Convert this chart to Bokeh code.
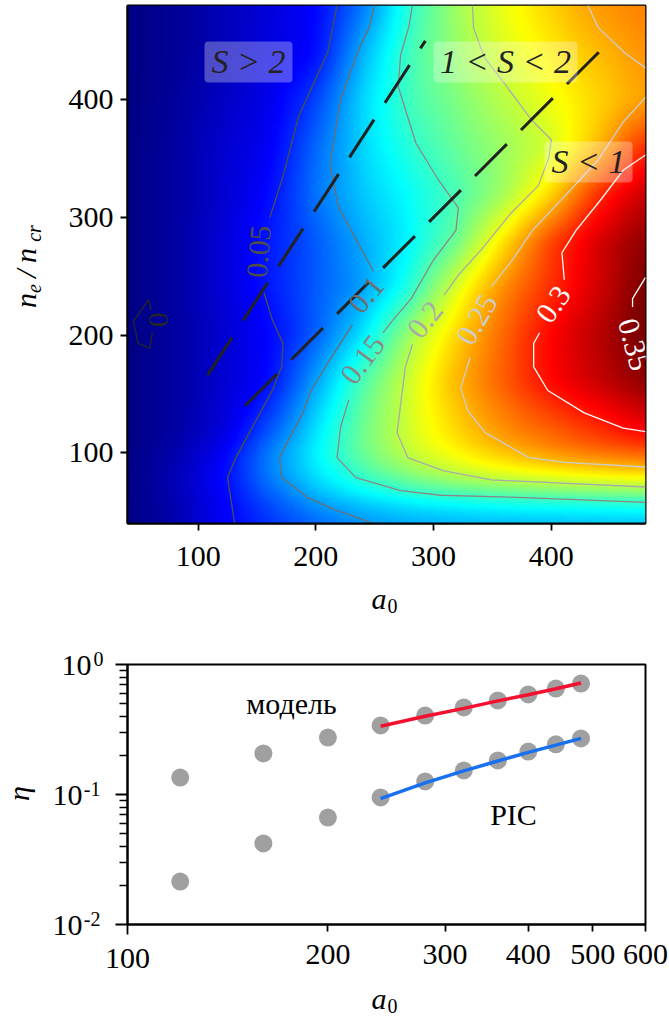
import math
import numpy as np
from bokeh.embed import file_html
from bokeh.resources import INLINE
from bokeh.layouts import column
from bokeh.models import BoxAnnotation, FixedTicker, Label, LinearColorMapper, Range1d
from bokeh.plotting import figure
from bokeh.core.properties import value

FONT = "Liberation Serif"

# ---------- top panel: efficiency map ----------
a0_cols = [40, 80, 120, 160, 200, 240, 280, 320, 360, 400, 440, 480]
ne_rows = [40, 60, 80, 100, 120, 160, 200, 240, 280, 320, 360, 400, 440, 480]
z_n40  = [.002, .016, .042, .060, .078, .092, .100, .103, .105, .106, .107, .108]
z_n60  = [.002, .018, .042, .072, .102, .120, .133, .140, .146, .149, .152, .154]
z_n80  = [.002, .020, .046, .088, .123, .153, .178, .198, .208, .217, .223, .228]
z_n100 = [.002, .016, .040, .088, .130, .170, .202, .222, .242, .258, .270, .278]
z_n120 = [.002, .012, .030, .070, .122, .170, .205, .233, .258, .274, .291, .310]
z_n160 = [.002, .012, .028, .045, .100, .160, .205, .245, .275, .305, .325, .345]
z_n200 = [.002, .012, .028, .044, .075, .123, .189, .234, .272, .306, .330, .355]
z_n240 = [.002, .012, .030, .052, .075, .097, .143, .210, .260, .290, .320, .352]
z_n280 = [.002, .012, .030, .053, .074, .103, .129, .167, .229, .285, .320, .345]
z_n320 = [.002, .012, .028, .046, .085, .113, .133, .156, .185, .230, .291, .325]
z_n360 = [.002, .012, .028, .040, .080, .118, .145, .167, .185, .202, .240, .293]
z_n400 = [.002, .010, .024, .037, .066, .119, .155, .175, .195, .214, .232, .250]
z_n440 = [.002, .008, .020, .034, .045, .106, .155, .184, .207, .224, .241, .256]
z_n480 = [.002, .008, .020, .032, .044, .084, .147, .187, .213, .234, .254, .262]
z_rows = [z_n40, z_n60, z_n80, z_n100, z_n120, z_n160, z_n200, z_n240, z_n280,
          z_n320, z_n360, z_n400, z_n440, z_n480]

# contour paths (a0, ne), pieces separated where the labels sit
c0_a = [60, 58, 45, 49, 59, 61]
c0_n = [221, 230, 212, 193, 189, 202]
c05a_a = [131, 125, 132, 164, 168, 171, 172, 163, 156]
c05a_n = [40, 79, 96, 155, 166, 173, 193, 213, 236]
c05b_a = [161, 173, 185, 210, 215, 218]
c05b_n = [300, 338, 385, 440, 465, 480]
c10a_a = [249, 213, 193, 171, 169, 189, 196, 210, 231]
c10a_n = [40, 53, 62, 79, 96, 134, 153, 176, 209]
c10b_a = [249, 219, 212, 221, 236, 245, 250]
c10b_n = [254, 309, 346, 400, 442, 461, 480]
c15a_a = [228, 221, 218, 234, 272, 306, 377, 480]
c15a_n = [145, 122, 96, 79, 68, 64, 62, 58]
c15b_a = [257, 264, 281, 300, 319, 321, 304, 285, 270, 272, 279, 282]
c15b_n = [202, 211, 231, 264, 289, 308, 332, 363, 411, 438, 462, 480]
c20a_a = [282, 276, 269, 278, 308, 349, 480]
c20a_n = [192, 173, 117, 96, 85, 77, 71]
c20b_a = [309, 321, 340, 366, 389, 398, 400, 383, 360, 343, 334, 333]
c20b_n = [234, 251, 272, 304, 327, 351, 366, 383, 414, 436, 461, 480]
c25a_a = [331, 323, 329, 344, 381, 411, 480]
c25a_n = [181, 155, 136, 117, 96, 92, 88]
c25b_a = [349, 367, 384, 414, 440, 461, 480]
c25b_n = [241, 264, 289, 321, 349, 381, 402]
c25c_a = [431, 440, 462, 480]
c25c_n = [480, 461, 440, 427]
c30a_a = [390, 385, 385, 397, 428, 461, 480]
c30a_n = [202, 193, 173, 153, 134, 121, 118]
c30b_a = [411, 409, 421, 442, 461, 480]
c30b_n = [247, 270, 289, 315, 340, 353]
c35_a = [480, 469, 469]
c35_n = [249, 231, 224]

contours = [
    (c0_a, c0_n, "#262626"),
    (c05a_a, c05a_n, "#4d4d4d"), (c05b_a, c05b_n, "#4d4d4d"),
    (c10a_a, c10a_n, "#6e6e6e"), (c10b_a, c10b_n, "#6e6e6e"),
    (c15a_a, c15a_n, "#888888"), (c15b_a, c15b_n, "#888888"),
    (c20a_a, c20a_n, "#aaaaaa"), (c20b_a, c20b_n, "#aaaaaa"),
    (c25a_a, c25a_n, "#cccccc"), (c25b_a, c25b_n, "#cccccc"), (c25c_a, c25c_n, "#cccccc"),
    (c30a_a, c30a_n, "#fafafa"), (c30b_a, c30b_n, "#fafafa"),
    (c35_a, c35_n, "#ffffff"),
]

clabel_text = ["0", "0.05", "0.1", "0.15", "0.2", "0.25", "0.3", "0.35"]
clabel_a = [66, 152, 243, 240, 293, 337, 402, 470]
clabel_n = [213, 271, 234, 179, 213, 213, 226, 192]
clabel_rot = [90, 85, 50, 53, 52, 60, 55, -75]
clabel_col = ["#262626", "#4d4d4d", "#6e6e6e", "#888888", "#aaaaaa", "#cccccc", "#fafafa", "#ffffff"]

dash1_a = [108, 293]
dash1_n = [166, 450]
dash2_a = [140, 443]
dash2_n = [140, 443]

# ---------- bottom panel ----------
a0_pts = [120, 160, 200, 240, 280, 320, 360, 400, 440, 480]
eta_model = [.135, .207, .274, .34, .405, .467, .529, .588, .653, .714]
eta_pic = [.0214, .042, .0665, .095, .126, .153, .183, .214, .243, .27]
a0_fit = [240, 280, 320, 360, 400, 440, 480]
eta_model_fit = [.335, .40, .46, .525, .585, .65, .72]
eta_pic_fit = [.093, .123, .152, .181, .211, .24, .27]

# ---------- texts outside the two frames (text, page x, page y, size, italic, align, rotated) ----------
outer_texts = [
    ("a", 378.5, 598, 30, True, "center", False),
    ("0", 392, 605, 20, False, "center", False),
    ("n", 25, 300, 30, True, "center", True),
    ("e", 33, 288, 20, True, "center", True),
    ("/", 25, 273, 30, True, "center", True),
    ("n", 25, 255, 30, True, "center", True),
    ("cr", 33, 233, 20, True, "center", True),
    ("100", 127, 958, 30, False, "center", False),
    ("10", 91, 665, 30, False, "right", False),
    ("0", 103, 658, 20, False, "right", False),
    ("10", 82, 795, 30, False, "right", False),
    ("-1", 100, 788, 20, False, "right", False),
    ("10", 82, 925, 30, False, "right", False),
    ("-2", 100, 918, 20, False, "right", False),
    ("a", 378.5, 998, 30, True, "center", False),
    ("0", 392, 1005, 20, False, "center", False),
    ("η", 18, 793, 30, True, "center", True),
]


def jet(n=256):
    out = []
    for i in range(n):
        f = i / (n - 1)
        r = min(max(min(4 * f - 1.5, -4 * f + 4.5), 0), 1)
        g = min(max(min(4 * f - 0.5, -4 * f + 3.5), 0), 1)
        b = min(max(min(4 * f + 0.5, -4 * f + 2.5), 0), 1)
        out.append("#%02x%02x%02x" % (int(r * 255), int(g * 255), int(b * 255)))
    return out


def display_field(size=264):
    """Resample the read table for display, as a smoothed image would be."""
    z = np.array(z_rows)
    fine = np.linspace(40, 480, size)
    by_col = np.array([np.interp(fine, a0_cols, row) for row in z])
    full = np.array([np.interp(fine, ne_rows, by_col[:, j]) for j in range(size)]).T
    kernel = np.exp(-0.5 * (np.arange(-12, 13) / 5.0) ** 2)
    kernel /= kernel.sum()
    for axis in (0, 1):
        pad = np.pad(full, [(12, 12) if k == axis else (0, 0) for k in (0, 1)], mode="edge")
        full = np.apply_along_axis(lambda m: np.convolve(m, kernel, mode="valid"), axis, pad)
    return full


def style_axis(ax):
    ax.axis_line_width = 2
    ax.axis_line_color = "black"
    ax.major_tick_line_width = 1.8
    ax.major_tick_line_color = "black"
    ax.major_tick_in = 0
    ax.major_tick_out = 7
    ax.minor_tick_in = 0
    ax.minor_tick_out = 0
    ax.major_label_text_font = FONT
    ax.major_label_text_font_size = "30px"
    ax.major_label_text_color = "black"


TOP_FRAME = (127, 5, 518, 518)     # left, top, width, height on the page
BOT_FRAME = (127, 664, 518, 260)
H1 = 638
H2 = 1016 - H1

p1 = figure(width=669, height=H1, frame_width=TOP_FRAME[2], frame_height=TOP_FRAME[3],
            x_range=Range1d(40, 480), y_range=Range1d(40, 480),
            output_backend="svg", toolbar_location=None,
            min_border_left=TOP_FRAME[0], min_border_top=TOP_FRAME[1],
            min_border_right=669 - TOP_FRAME[0] - TOP_FRAME[2],
            min_border_bottom=H1 - TOP_FRAME[1] - TOP_FRAME[3])
p1.grid.visible = False
p1.outline_line_color = "black"
p1.outline_line_width = 2
for ax in (p1.xaxis[0], p1.yaxis[0]):
    style_axis(ax)
    ax.ticker = FixedTicker(ticks=[100, 200, 300, 400])
p1.xaxis[0].major_label_standoff = 16
p1.yaxis[0].major_label_standoff = 7

mapper = LinearColorMapper(palette=jet(), low=0, high=0.35)
p1.image(image=[display_field()], x=40, y=40, dw=440, dh=440, color_mapper=mapper)
for xs, ys, col in contours:
    p1.line(xs, ys, line_color=col, line_width=1.3)
p1.line(dash1_a, dash1_n, line_color="#222222", line_width=3, line_dash="45 20")
p1.line(dash2_a, dash2_n, line_color="#222222", line_width=3, line_dash="45 20")
p1.text(clabel_a, clabel_n, text=clabel_text, angle=[math.radians(r) for r in clabel_rot],
        text_font=value(FONT), text_font_size="30px", text_color=clabel_col,
        text_align="center", text_baseline="middle")


def tx(px):
    return 40 + (px - TOP_FRAME[0]) / TOP_FRAME[2] * 440


def ty(py):
    return 480 - (py - TOP_FRAME[1]) / TOP_FRAME[3] * 440


def bx(px):
    return 100 * 6 ** ((px - BOT_FRAME[0]) / BOT_FRAME[2])


def by(py):
    return 10 ** (-(py - BOT_FRAME[1]) / (BOT_FRAME[3] / 2))


def text_data(fig, x, y, s, size, italic=False, color="black"):
    fig.add_layout(Label(x=x, y=y, text=s, text_font=FONT, text_font_size=f"{size}px",
                         text_font_style="italic" if italic else "normal",
                         text_align="center", text_baseline="middle", text_color=color))


for left, right, top, bottom, cap, cx, cy in [
    (204, 292, 41, 82, "S > 2", 248, 61),
    (433, 577, 41, 82, "1 < S < 2", 505, 61),
    (544, 632, 141, 182, "S < 1", 588, 161),
]:
    p1.add_layout(BoxAnnotation(left=tx(left), right=tx(right), top=ty(top), bottom=ty(bottom),
                                fill_color="white", fill_alpha=0.3, line_alpha=0, border_radius=4))
    text_data(p1, tx(cx), ty(cy), cap, 34, italic=True, color="#222222")

p2 = figure(width=669, height=H2, frame_width=BOT_FRAME[2], frame_height=BOT_FRAME[3],
            x_axis_type="log", y_axis_type="log",
            x_range=Range1d(100, 600), y_range=Range1d(0.01, 1),
            output_backend="svg", toolbar_location=None,
            min_border_left=BOT_FRAME[0], min_border_top=BOT_FRAME[1] - H1,
            min_border_right=669 - BOT_FRAME[0] - BOT_FRAME[2],
            min_border_bottom=H2 - (BOT_FRAME[1] - H1) - BOT_FRAME[3])
p2.grid.visible = False
p2.outline_line_color = "black"
p2.outline_line_width = 2
style_axis(p2.xaxis[0])
style_axis(p2.yaxis[0])
p2.xaxis[0].ticker = FixedTicker(ticks=[200, 300, 400, 500, 600], minor_ticks=[100])
p2.xaxis[0].major_label_overrides = {200: "200", 300: "300", 400: "400", 500: "500", 600: "600"}
p2.xaxis[0].major_label_standoff = 10
p2.xaxis[0].minor_tick_out = 10
p2.xaxis[0].minor_tick_line_width = 1.8
p2.xaxis[0].minor_tick_line_color = "black"

p2.yaxis[0].ticker = FixedTicker(
    ticks=[0.01, 0.1, 1],
    minor_ticks=[.02, .03, .04, .05, .06, .07, .08, .09, .2, .3, .4, .5, .6, .7, .8, .9])
p2.yaxis[0].major_tick_out = 12
p2.yaxis[0].minor_tick_out = 8
p2.yaxis[0].minor_tick_line_width = 1.5
p2.yaxis[0].minor_tick_line_color = "black"
p2.yaxis[0].major_label_overrides = {0.01: " ", 0.1: " ", 1: " "}

p2.scatter(a0_pts, eta_model, size=18, color="#a0a0a0", line_color=None)
p2.scatter(a0_pts, eta_pic, size=18, color="#a0a0a0", line_color=None)
p2.line(a0_fit, eta_model_fit, line_color="#f5102f", line_width=3.5)
p2.line(a0_fit, eta_pic_fit, line_color="#1670f0", line_width=3.5)

text_data(p2, bx(291), by(703), "модель", 30)
text_data(p2, bx(513), by(814), "PIC", 30)

# transparent sheet over the whole page for the texts that stand outside the frames
sheet = figure(width=669, height=1016, x_range=Range1d(0, 669), y_range=Range1d(1016, 0),
               output_backend="svg", toolbar_location=None,
               x_axis_location=None, y_axis_location=None,
               min_border=0, min_border_left=0, min_border_right=0, min_border_top=0,
               min_border_bottom=0, background_fill_color=None, border_fill_color=None,
               outline_line_color=None, margin=(-1016, 0, 0, 0))
sheet.grid.visible = False
for s, px, py, size, italic, align, rotated in outer_texts:
    sheet.text([px], [py], text=[s], angle=math.pi / 2 if rotated else 0,
               text_font=value(FONT), text_font_size=f"{size}px",
               text_font_style="italic" if italic else "normal",
               text_align=align, text_baseline="middle", text_color="black")

if "frame_align" in sheet.properties():
    sheet.frame_align = False
    page = column(p1, p2, sheet, spacing=0)
else:
    page = [column(p1, p2, spacing=0), sheet]

open("out.html", "w").write(file_html(page, INLINE))
